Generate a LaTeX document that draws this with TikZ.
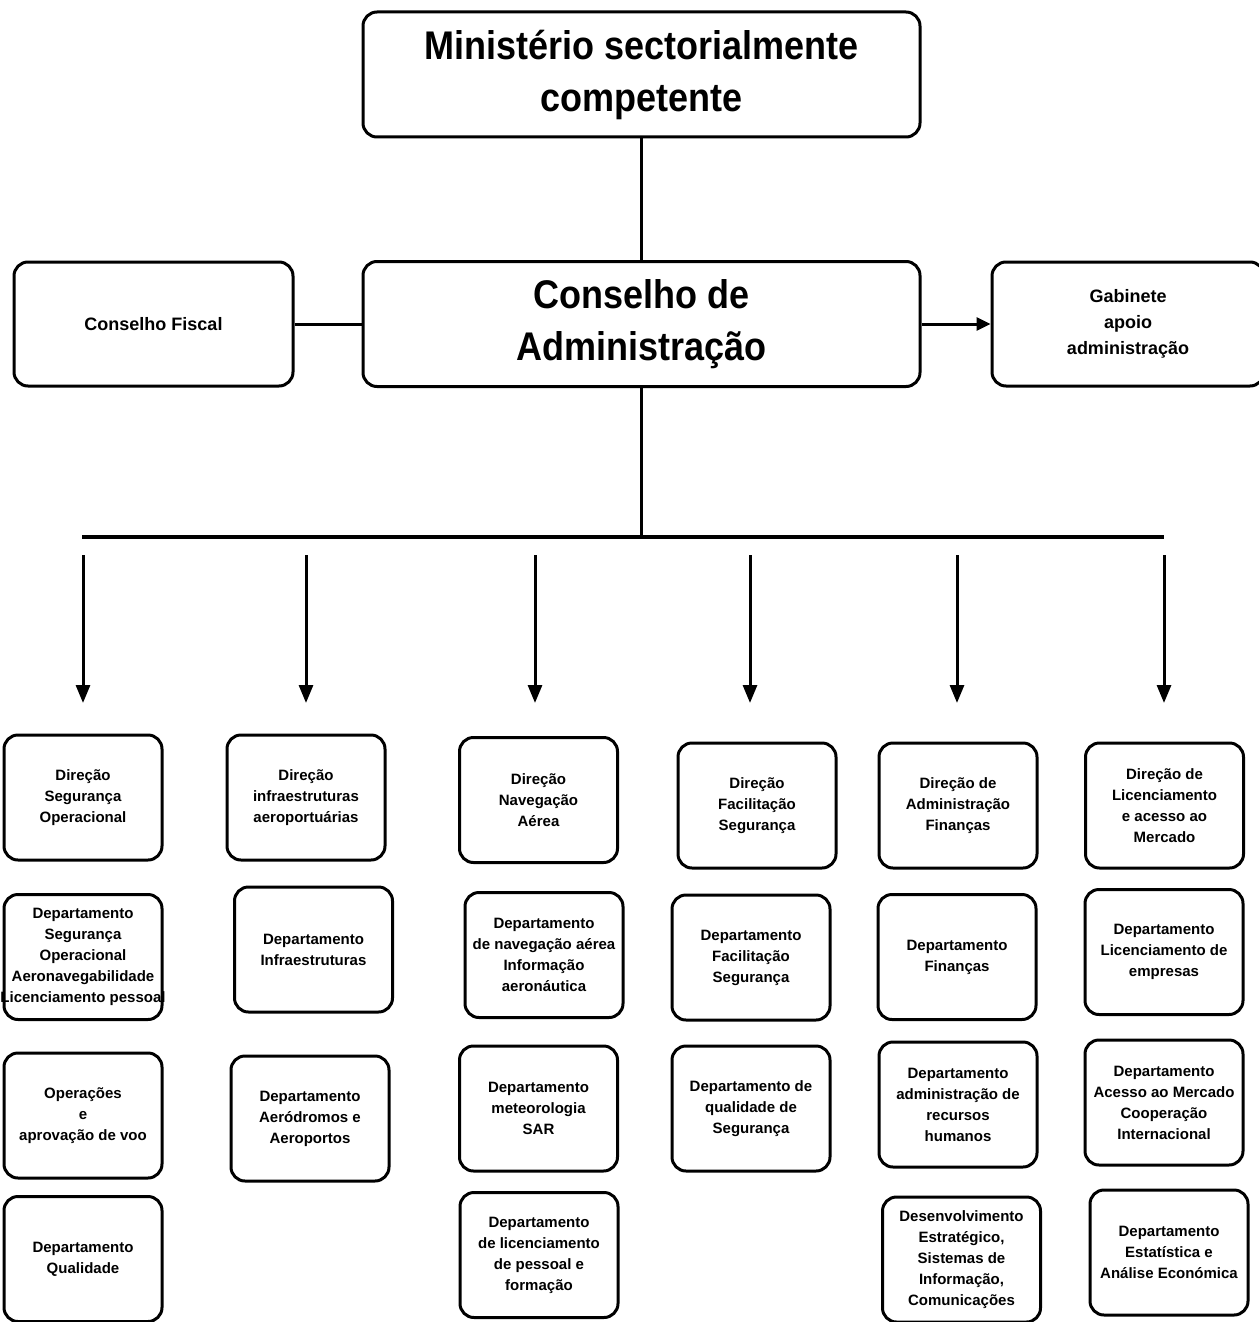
\documentclass[tikz,border=0pt]{standalone}
\usepackage{fontspec}
\setmainfont{Liberation Sans}
\newfontfamily\bigfont{Liberation Sans}[FakeStretch=0.9]
\usetikzlibrary{arrows.meta}

\begin{document}
\begin{tikzpicture}[
    x=0.5pt,y=-0.5pt,
    frame/.style={draw=black, rounded corners=7pt, line width=1.5pt, align=center, inner sep=2pt},
    topbox/.style={frame, minimum width=278.5pt, minimum height=62.5pt, font=\bigfont\bfseries\fontsize{20}{26}\selectfont},
    sidebox/.style={frame, minimum height=62pt, font=\bfseries\fontsize{9}{13}\selectfont},
    unit/.style={frame, minimum width=79pt, minimum height=62.5pt, font=\bfseries\fontsize{7.5}{10.5}\selectfont},
    link/.style={line width=1.5pt},
    arr/.style={line width=1.5pt, -{Triangle[width=7pt,length=9pt]}}
]
    \useasboundingbox (0,0) rectangle (1258,1322);

    \node[topbox] (mini) at (641.5,74.5) {Ministério sectorialmente\\competente};
    \node[topbox] (cadm) at (641.5,324) {Conselho de\\Administração};
    \node[sidebox, minimum width=139.5pt] (cfis) at (153.5,324) {Conselho Fiscal};
    \node[sidebox, minimum width=136pt] (gab) at (1128,324) {Gabinete\\apoio\\administração};

    \draw[link] (mini) -- (cadm);
    \draw[link] (cfis) -- (cadm);
    \draw[line width=1.5pt, -{Triangle[width=6.5pt,length=7pt]}] (cadm) -- (gab);

    \coordinate (busL) at (82,537);
    \coordinate (busR) at (1164,537);
    \coordinate (busM) at (641.5,537);
    \draw[link] (cadm.south) -- (busM);
    \draw[line width=2pt] (busL) -- (busR);

    \foreach \x [count=\i] in {83,306,535,750,957,1164} {
        \coordinate (t\i) at (\x,555);
        \coordinate (h\i) at (\x,703);
        \draw[arr] (t\i) -- (h\i);
    }

    \node[unit] (dso)  at (83,797.5)   {Direção\\Segurança\\Operacional};
    \node[unit] (dsoa) at (83,957)     {Departamento\\Segurança\\Operacional\\Aeronavegabilidade\\\makebox[70pt]{Licenciamento pessoal}};
    \node[unit] (opv)  at (83,1115.5)  {Operações\\e\\aprovação de voo};
    \node[unit] (dq)   at (83,1259)    {Departamento\\Qualidade};

    \node[unit] (dia)  at (306,797.5)  {Direção\\infraestruturas\\aeroportuárias};
    \node[unit] (dinf) at (313.5,949.5) {Departamento\\Infraestruturas};
    \node[unit] (daa)  at (310,1118.5) {Departamento\\Aeródromos e\\Aeroportos};

    \node[unit] (dna)  at (538.5,800)  {Direção\\Navegação\\Aérea};
    \node[unit] (dnai) at (544,955)    {Departamento\\de navegação aérea\\Informação\\aeronáutica};
    \node[unit] (dms)  at (538.5,1108.5) {Departamento\\meteorologia\\SAR};
    \node[unit] (dlpf) at (539,1255)   {Departamento\\de licenciamento\\de pessoal e\\formação};

    \node[unit] (dfs)  at (757,805.5)  {Direção\\Facilitação\\Segurança};
    \node[unit] (dpfs) at (751,957.5)  {Departamento\\Facilitação\\Segurança};
    \node[unit] (dqs)  at (751,1108.5) {Departamento de\\qualidade de\\Segurança};

    \node[unit] (daf)  at (958,805.5)  {Direção de\\Administração\\Finanças};
    \node[unit] (dfin) at (957,957)    {Departamento\\Finanças};
    \node[unit] (drh)  at (958,1104.5) {Departamento\\administração de\\recursos\\humanos};
    \node[unit] (dest) at (961.5,1259.5) {Desenvolvimento\\Estratégico,\\Sistemas de\\Informação,\\Comunicações};

    \node[unit] (dlam) at (1164.5,805.5) {Direção de\\Licenciamento\\e acesso ao\\Mercado};
    \node[unit] (dle)  at (1164,952)   {Departamento\\Licenciamento de\\empresas};
    \node[unit] (dami) at (1164,1102.5) {Departamento\\Acesso ao Mercado\\Cooperação\\Internacional};
    \node[unit] (deae) at (1169,1252.5) {Departamento\\Estatística e\\Análise Económica};
\end{tikzpicture}
\end{document}
